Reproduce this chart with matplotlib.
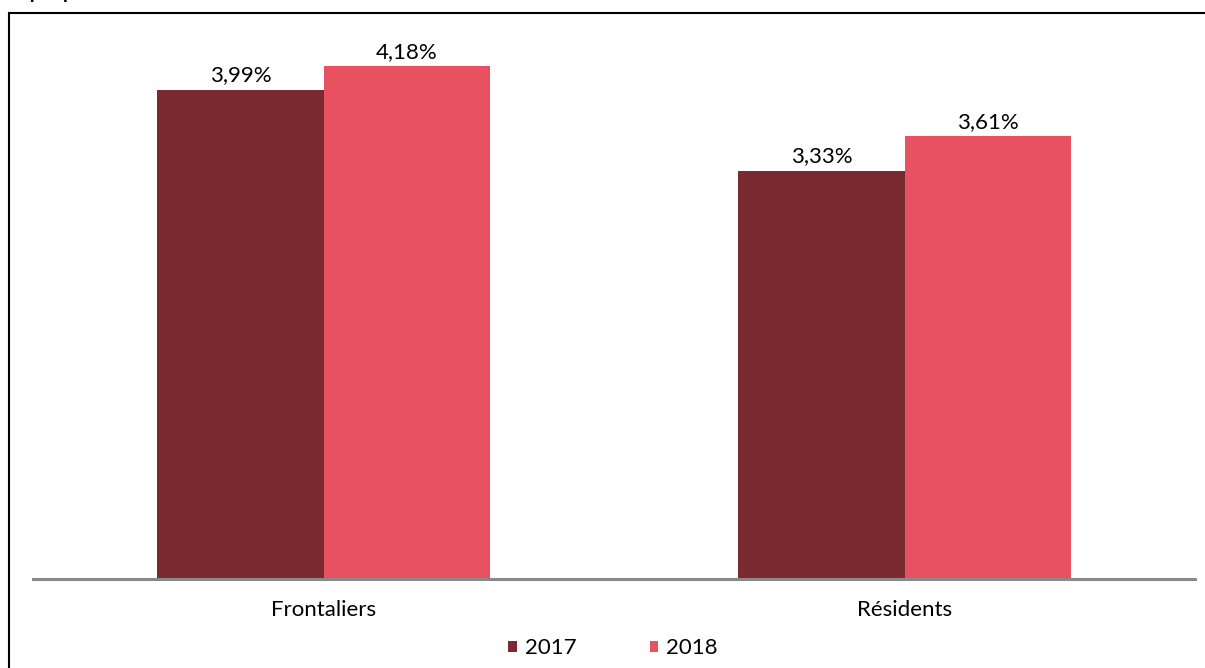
import numpy as np
import matplotlib
matplotlib.use("Agg")
import matplotlib.pyplot as plt
from matplotlib.patches import Rectangle

categories = ["Frontaliers", "Résidents"]
years = ["2017", "2018"]
values_2017 = [3.99, 3.33]
values_2018 = [4.18, 3.61]
colors = ["#7B2A32", "#E85160"]

W, H = 1205, 668
fig = plt.figure(figsize=(W / 100, H / 100), dpi=100)
plt.rcParams['font.family'] = ['Lato', 'DejaVu Sans']

# outer frame (chart border, cut at right and bottom)
fig.patches.append(Rectangle((9 / W, -0.1), 1.2, 1 - 13 / H + 0.1, transform=fig.transFigure,
                             fill=False, edgecolor="black", linewidth=1.5))

# title cut off at the top of the picture
fig.text(-2 / W, 1 + 1 / H, "Graphique 3 : Taux d'absentéisme des résidents et frontaliers",
         fontsize=14, fontweight="bold", va="baseline", ha="left", color="black")

ax = fig.add_axes([33 / W, 1 - 579 / H, (1195 - 33) / W, (579 - 27) / H])
x = np.arange(len(categories))
w = 0.286
b1 = ax.bar(x - w / 2, values_2017, w, color=colors[0], label=years[0])
b2 = ax.bar(x + w / 2, values_2018, w, color=colors[1], label=years[1])

for bars, vals in ((b1, values_2017), (b2, values_2018)):
    for rect, v in zip(bars, vals):
        ax.text(rect.get_x() + rect.get_width() / 2, v + 0.065, f"{v:.2f}%".replace(".", ","),
                ha="center", va="baseline", fontsize=16)

ax.set_xlim(-0.5, 1.5)
ax.set_ylim(0, 4.5)
ax.set_yticks([])
ax.set_xticks(x)
ax.set_xticklabels(categories, fontsize=16)
ax.tick_params(axis="x", length=0, pad=15)
for s in ["top", "right", "left"]:
    ax.spines[s].set_visible(False)
ax.spines["bottom"].set_color("#898989")
ax.spines["bottom"].set_linewidth(2.2)
ax.patch.set_alpha(0)

leg = fig.legend(handles=[b1, b2], labels=years, loc="center", ncol=2,
                 bbox_to_anchor=(613 / W, 1 - 648 / H), frameon=False, fontsize=16,
                 handlelength=0.38, handleheight=0.38, handletextpad=0.36, columnspacing=3.3,
                 borderpad=0, borderaxespad=0)

fig.savefig("out.png", dpi=100)
